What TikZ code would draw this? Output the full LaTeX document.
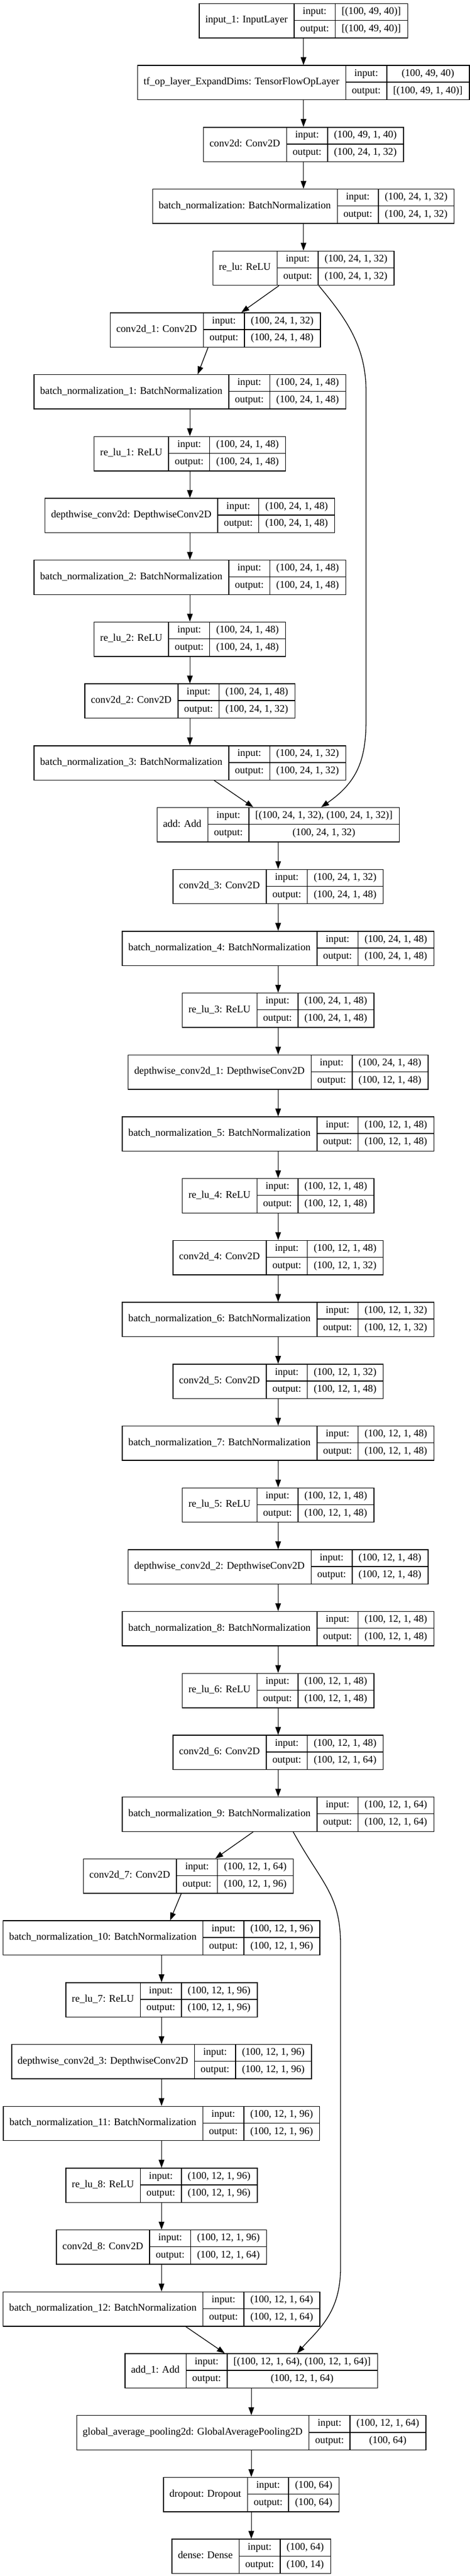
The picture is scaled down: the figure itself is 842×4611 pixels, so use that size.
\documentclass[tikz,border=0pt]{standalone}
\usepackage{fontspec}
\setmainfont{Liberation Serif}
\usetikzlibrary{arrows.meta}
\newcommand\lfont{\normalfont\fontsize{18.2}{21}\selectfont}
\newlength\lwA \newlength\lwB \newlength\lwC
\def\lblw{73.6}
\newcommand\layer[6]{%
 \pgfinterruptpicture
 \settowidth\lwA{\lfont #4}\global\lwA=\lwA
 \settowidth\lwB{\lfont #5}\global\lwB=\lwB
 \settowidth\lwC{\lfont #6}\global\lwC=\lwC
 \endpgfinterruptpicture
 \ifdim\lwC>\lwB \lwB=\lwC\fi
 \pgfmathsetmacro\lwt{\lwA+23}%
 \pgfmathsetmacro\lwv{\lwB+23}%
 \pgfmathsetmacro\ltot{\lwt+\lblw+\lwv}%
 \pgfmathsetmacro\lxl{#2-\ltot/2}%
 \pgfmathsetmacro\lyt{5.7+#3*110.7}%
 \pgfmathsetmacro\lxa{\lxl+\lwt}%
 \pgfmathsetmacro\lxb{\lxa+\lblw}%
 \pgfmathsetmacro\lxr{\lxl+\ltot}%
 \node[layerbox, minimum width=\ltot pt, anchor=north west] (#1) at (\lxl,\lyt) {};
 \node[txt] (#1t) at ({(\lxl+\lxa)/2},\lyt+30.75) {#4};
 \node[txt] (#1i) at ({(\lxa+\lxb)/2},\lyt+15.375) {input:};
 \node[txt] (#1o) at ({(\lxa+\lxb)/2},\lyt+46.125) {output:};
 \node[txt] (#1a) at ({(\lxb+\lxr)/2},\lyt+15.375) {#5};
 \node[txt] (#1b) at ({(\lxb+\lxr)/2},\lyt+46.125) {#6};
 \draw[divline] (\lxa,\lyt) -- (\lxa,\lyt+61.5);
 \draw[divline] (\lxb,\lyt) -- (\lxb,\lyt+61.5);
 \draw[divline] (\lxa,\lyt+30.75) -- (\lxr,\lyt+30.75);
}
\begin{document}
\begin{tikzpicture}[x=1pt,y=-1pt,
  layerbox/.style={draw, line width=1.4pt, minimum height=61.5pt, inner sep=0pt},
  txt/.style={inner sep=0pt, text height=12pt, text depth=3pt, font=\lfont},
  divline/.style={line width=1.4pt},
  conn/.style={line width=1.3pt, -{Triangle[length=14pt,width=10pt]}}]
\fill[white] (0,0) rectangle (842,4611);
\useasboundingbox (0,0) rectangle (842,4611);
% first column
\layer{in}{543}{0}{input\_1: InputLayer}{[(100, 49, 40)]}{[(100, 49, 40)]}
\layer{tfop}{543}{1}{tf\_op\_layer\_ExpandDims: TensorFlowOpLayer}{(100, 49, 40)}{[(100, 49, 1, 40)]}
\layer{cv}{543}{2}{conv2d: Conv2D}{(100, 49, 1, 40)}{(100, 24, 1, 32)}
\layer{bn}{543}{3}{batch\_normalization: BatchNormalization}{(100, 24, 1, 32)}{(100, 24, 1, 32)}
\layer{relu}{543}{4}{re\_lu: ReLU}{(100, 24, 1, 32)}{(100, 24, 1, 32)}
% first branch
\layer{cvA}{385}{5}{conv2d\_1: Conv2D}{(100, 24, 1, 32)}{(100, 24, 1, 48)}
\layer{bnA}{339.5}{6}{batch\_normalization\_1: BatchNormalization}{(100, 24, 1, 48)}{(100, 24, 1, 48)}
\layer{reluA}{339.5}{7}{re\_lu\_1: ReLU}{(100, 24, 1, 48)}{(100, 24, 1, 48)}
\layer{dw}{339.5}{8}{depthwise\_conv2d: DepthwiseConv2D}{(100, 24, 1, 48)}{(100, 24, 1, 48)}
\layer{bnB}{339.5}{9}{batch\_normalization\_2: BatchNormalization}{(100, 24, 1, 48)}{(100, 24, 1, 48)}
\layer{reluB}{339.5}{10}{re\_lu\_2: ReLU}{(100, 24, 1, 48)}{(100, 24, 1, 48)}
\layer{cvB}{339.5}{11}{conv2d\_2: Conv2D}{(100, 24, 1, 48)}{(100, 24, 1, 32)}
\layer{bnC}{339.5}{12}{batch\_normalization\_3: BatchNormalization}{(100, 24, 1, 32)}{(100, 24, 1, 32)}
% middle column
\layer{add}{497.6}{13}{add: Add}{[(100, 24, 1, 32), (100, 24, 1, 32)]}{(100, 24, 1, 32)}
\layer{cvC}{497.6}{14}{conv2d\_3: Conv2D}{(100, 24, 1, 32)}{(100, 24, 1, 48)}
\layer{bnD}{497.6}{15}{batch\_normalization\_4: BatchNormalization}{(100, 24, 1, 48)}{(100, 24, 1, 48)}
\layer{reluC}{497.6}{16}{re\_lu\_3: ReLU}{(100, 24, 1, 48)}{(100, 24, 1, 48)}
\layer{dwA}{497.6}{17}{depthwise\_conv2d\_1: DepthwiseConv2D}{(100, 24, 1, 48)}{(100, 12, 1, 48)}
\layer{bnE}{497.6}{18}{batch\_normalization\_5: BatchNormalization}{(100, 12, 1, 48)}{(100, 12, 1, 48)}
\layer{reluD}{497.6}{19}{re\_lu\_4: ReLU}{(100, 12, 1, 48)}{(100, 12, 1, 48)}
\layer{cvD}{497.6}{20}{conv2d\_4: Conv2D}{(100, 12, 1, 48)}{(100, 12, 1, 32)}
\layer{bnF}{497.6}{21}{batch\_normalization\_6: BatchNormalization}{(100, 12, 1, 32)}{(100, 12, 1, 32)}
\layer{cvE}{497.6}{22}{conv2d\_5: Conv2D}{(100, 12, 1, 32)}{(100, 12, 1, 48)}
\layer{bnG}{497.6}{23}{batch\_normalization\_7: BatchNormalization}{(100, 12, 1, 48)}{(100, 12, 1, 48)}
\layer{reluE}{497.6}{24}{re\_lu\_5: ReLU}{(100, 12, 1, 48)}{(100, 12, 1, 48)}
\layer{dwB}{497.6}{25}{depthwise\_conv2d\_2: DepthwiseConv2D}{(100, 12, 1, 48)}{(100, 12, 1, 48)}
\layer{bnH}{497.6}{26}{batch\_normalization\_8: BatchNormalization}{(100, 12, 1, 48)}{(100, 12, 1, 48)}
\layer{reluF}{497.6}{27}{re\_lu\_6: ReLU}{(100, 12, 1, 48)}{(100, 12, 1, 48)}
\layer{cvF}{497.6}{28}{conv2d\_6: Conv2D}{(100, 12, 1, 48)}{(100, 12, 1, 64)}
\layer{bnI}{497.6}{29}{batch\_normalization\_9: BatchNormalization}{(100, 12, 1, 64)}{(100, 12, 1, 64)}
% second branch
\layer{cvG}{336.8}{30}{conv2d\_7: Conv2D}{(100, 12, 1, 64)}{(100, 12, 1, 96)}
\layer{bnJ}{288.7}{31}{batch\_normalization\_10: BatchNormalization}{(100, 12, 1, 96)}{(100, 12, 1, 96)}
\layer{reluG}{288.7}{32}{re\_lu\_7: ReLU}{(100, 12, 1, 96)}{(100, 12, 1, 96)}
\layer{dwC}{288.7}{33}{depthwise\_conv2d\_3: DepthwiseConv2D}{(100, 12, 1, 96)}{(100, 12, 1, 96)}
\layer{bnK}{288.7}{34}{batch\_normalization\_11: BatchNormalization}{(100, 12, 1, 96)}{(100, 12, 1, 96)}
\layer{reluH}{288.7}{35}{re\_lu\_8: ReLU}{(100, 12, 1, 96)}{(100, 12, 1, 96)}
\layer{cvH}{288.7}{36}{conv2d\_8: Conv2D}{(100, 12, 1, 96)}{(100, 12, 1, 64)}
\layer{bnL}{288.7}{37}{batch\_normalization\_12: BatchNormalization}{(100, 12, 1, 64)}{(100, 12, 1, 64)}
% tail
\layer{addA}{449.5}{38}{add\_1: Add}{[(100, 12, 1, 64), (100, 12, 1, 64)]}{(100, 12, 1, 64)}
\layer{gap}{449.5}{39}{global\_average\_pooling2d: GlobalAveragePooling2D}{(100, 12, 1, 64)}{(100, 64)}
\layer{drop}{449.5}{40}{dropout: Dropout}{(100, 64)}{(100, 64)}
\layer{dense}{449.5}{41}{dense: Dense}{(100, 64)}{(100, 14)}
% connectors
\draw[conn] (in.south) -- (tfop.north);
\draw[conn] (tfop.south) -- (cv.north);
\draw[conn] (cv.south) -- (bn.north);
\draw[conn] (bn.south) -- (relu.north);
\draw[conn] ([xshift=-44pt]relu.south) -- ([xshift=46.7pt]cvA.north);
\draw[conn] ([xshift=-13pt]cvA.south) -- ([xshift=14pt]bnA.north);
\draw[conn] (bnA.south) -- (reluA.north);
\draw[conn] (reluA.south) -- (dw.north);
\draw[conn] (dw.south) -- (bnB.north);
\draw[conn] (bnB.south) -- (reluB.north);
\draw[conn] (reluB.south) -- (cvB.north);
\draw[conn] (cvB.south) -- (bnC.north);
\draw[conn] ([xshift=43.5pt]bnC.south) -- ([xshift=-44.6pt]add.north);
\draw[conn] ([xshift=27.4pt]relu.south) .. controls (620,570) and (655.7,620) .. (655.7,700)
   -- (655.7,1290) .. controls (655.7,1360) and (640,1400) .. ([xshift=77.1pt]add.north);
\draw[conn] (add.south) -- (cvC.north);
\draw[conn] (cvC.south) -- (bnD.north);
\draw[conn] (bnD.south) -- (reluC.north);
\draw[conn] (reluC.south) -- (dwA.north);
\draw[conn] (dwA.south) -- (bnE.north);
\draw[conn] (bnE.south) -- (reluD.north);
\draw[conn] (reluD.south) -- (cvD.north);
\draw[conn] (cvD.south) -- (bnF.north);
\draw[conn] (bnF.south) -- (cvE.north);
\draw[conn] (cvE.south) -- (bnG.north);
\draw[conn] (bnG.south) -- (reluE.north);
\draw[conn] (reluE.south) -- (dwB.north);
\draw[conn] (dwB.south) -- (bnH.north);
\draw[conn] (bnH.south) -- (reluF.north);
\draw[conn] (reluF.south) -- (cvF.north);
\draw[conn] (cvF.south) -- (bnI.north);
\draw[conn] ([xshift=-44.6pt]bnI.south) -- ([xshift=48.2pt]cvG.north);
\draw[conn] ([xshift=-12.8pt]cvG.south) -- ([xshift=15.3pt]bnJ.north);
\draw[conn] (bnJ.south) -- (reluG.north);
\draw[conn] (reluG.south) -- (dwC.north);
\draw[conn] (dwC.south) -- (bnK.north);
\draw[conn] (bnK.south) -- (reluH.north);
\draw[conn] (reluH.south) -- (cvH.north);
\draw[conn] (cvH.south) -- (bnL.north);
\draw[conn] ([xshift=43.3pt]bnL.south) -- ([xshift=-47.5pt]addA.north);
\draw[conn] ([xshift=26.9pt]bnI.south) .. controls (575,3370) and (610,3390) .. (610,3480)
   -- (610,4060) .. controls (610,4140) and (570,4170) .. ([xshift=82.1pt]addA.north);
\draw[conn] (addA.south) -- (gap.north);
\draw[conn] (gap.south) -- (drop.north);
\draw[conn] (drop.south) -- (dense.north);
\end{tikzpicture}
\end{document}
